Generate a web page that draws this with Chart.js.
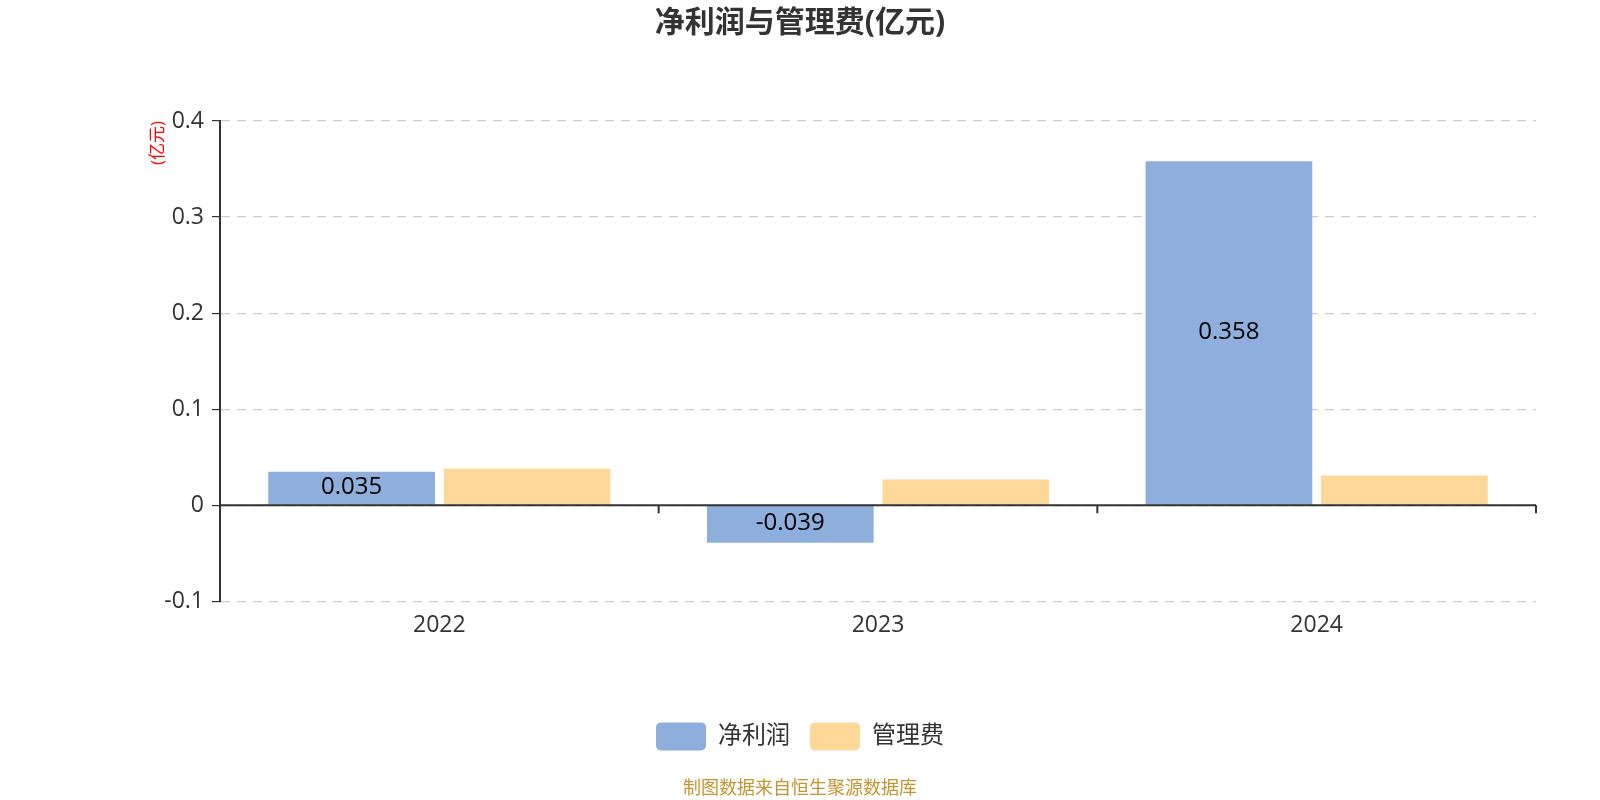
<!DOCTYPE html>
<html>
<head>
<meta charset="utf-8">
<script src="https://cdn.jsdelivr.net/npm/chart.js@4.4.1/dist/chart.umd.min.js"></script>
<style>
  html, body { margin: 0; padding: 0; background: #fff; }
</style>
</head>
<body>
<canvas id="chart" width="1600" height="800"></canvas>
<script>
const years = ["2022", "2023", "2024"];
const netProfit = [0.035, -0.039, 0.358];
const adminFee = [0.038, 0.027, 0.031];
const seriesNames = ["净利润", "管理费"];
const yRange = { min: -0.1, max: 0.4, step: 0.1 };

const FONT = '"Open Sans", "Noto Sans CJK SC", sans-serif';
const BLUE = "#8eaedb";
const ORANGE = "#fed899";
const DARK = "#333333";

// zero line + downward category ticks on it, and value labels on the profit bars
const extras = {
    id: "extras",
    afterDatasetsDraw(chart) {
        const { ctx, scales: { x, y } } = chart;
        const y0 = y.getPixelForValue(0);
        ctx.save();
        ctx.strokeStyle = DARK;
        ctx.lineWidth = 2;
        ctx.beginPath();
        ctx.moveTo(x.left, y0);
        ctx.lineTo(x.right, y0);
        const half = (x.getPixelForTick(1) - x.getPixelForTick(0)) / 2;
        for (let i = 0; i < years.length; i++) {
            const bx = x.getPixelForTick(i) + half;
            ctx.moveTo(bx, y0);
            ctx.lineTo(bx, y0 + 8);
        }
        ctx.stroke();

        const meta = chart.getDatasetMeta(0);
        ctx.fillStyle = "#000";
        ctx.font = "24px " + FONT;
        ctx.textAlign = "center";
        ctx.textBaseline = "middle";
        meta.data.forEach((bar, i) => {
            const p = bar.getCenterPoint();
            ctx.fillText(String(netProfit[i]), p.x, p.y - 1);
        });
        ctx.restore();
    }
};

new Chart(document.getElementById("chart").getContext("2d"), {
    type: "bar",
    data: {
        labels: years,
        datasets: [
            { label: seriesNames[0], data: netProfit, backgroundColor: BLUE },
            { label: seriesNames[1], data: adminFee, backgroundColor: ORANGE }
        ]
    },
    options: {
        responsive: false,
        animation: false,
        devicePixelRatio: 1,
        categoryPercentage: 0.8,
        barPercentage: 0.95,
        layout: { padding: { left: 64, right: 64, top: 0, bottom: 0 } },
        scales: {
            x: {
                grid: { display: false, drawTicks: false },
                border: { display: false },
                ticks: { color: DARK, font: { family: FONT, size: 23 }, padding: 10 },
                afterFit(s) { s.height = 101; }
            },
            y: {
                min: yRange.min,
                max: yRange.max,
                ticks: { stepSize: yRange.step, color: DARK, font: { family: FONT, size: 23 }, padding: 8 },
                grid: { color: "#cccccc", lineWidth: 1.2, tickColor: DARK, tickLength: 8 },
                border: { color: DARK, width: 2, dash: [9, 7] },
                title: {
                    display: true,
                    text: "(亿元)",
                    color: "#ff0000",
                    align: "end",
                    font: { family: FONT, size: 17 },
                    padding: { top: 84, bottom: 0 }
                },
                afterFit(s) { s.width = 156; }
            }
        },
        plugins: {
            title: {
                display: true,
                text: "净利润与管理费(亿元)",
                color: DARK,
                font: { family: FONT, size: 30, weight: "bold" },
                padding: { top: 5, bottom: 80 }
            },
            subtitle: {
                display: true,
                position: "bottom",
                text: "制图数据来自恒生聚源数据库",
                color: "#c49431",
                font: { family: FONT, size: 18 },
                padding: { top: 18, bottom: 0 }
            },
            legend: {
                position: "bottom",
                labels: {
                    color: DARK,
                    font: { family: FONT, size: 24 },
                    boxWidth: 50,
                    boxHeight: 28,
                    useBorderRadius: true,
                    borderRadius: 5,
                    padding: 20
                }
            },
            tooltip: { enabled: false }
        }
    },
    plugins: [extras]
});
</script>
</body>
</html>
